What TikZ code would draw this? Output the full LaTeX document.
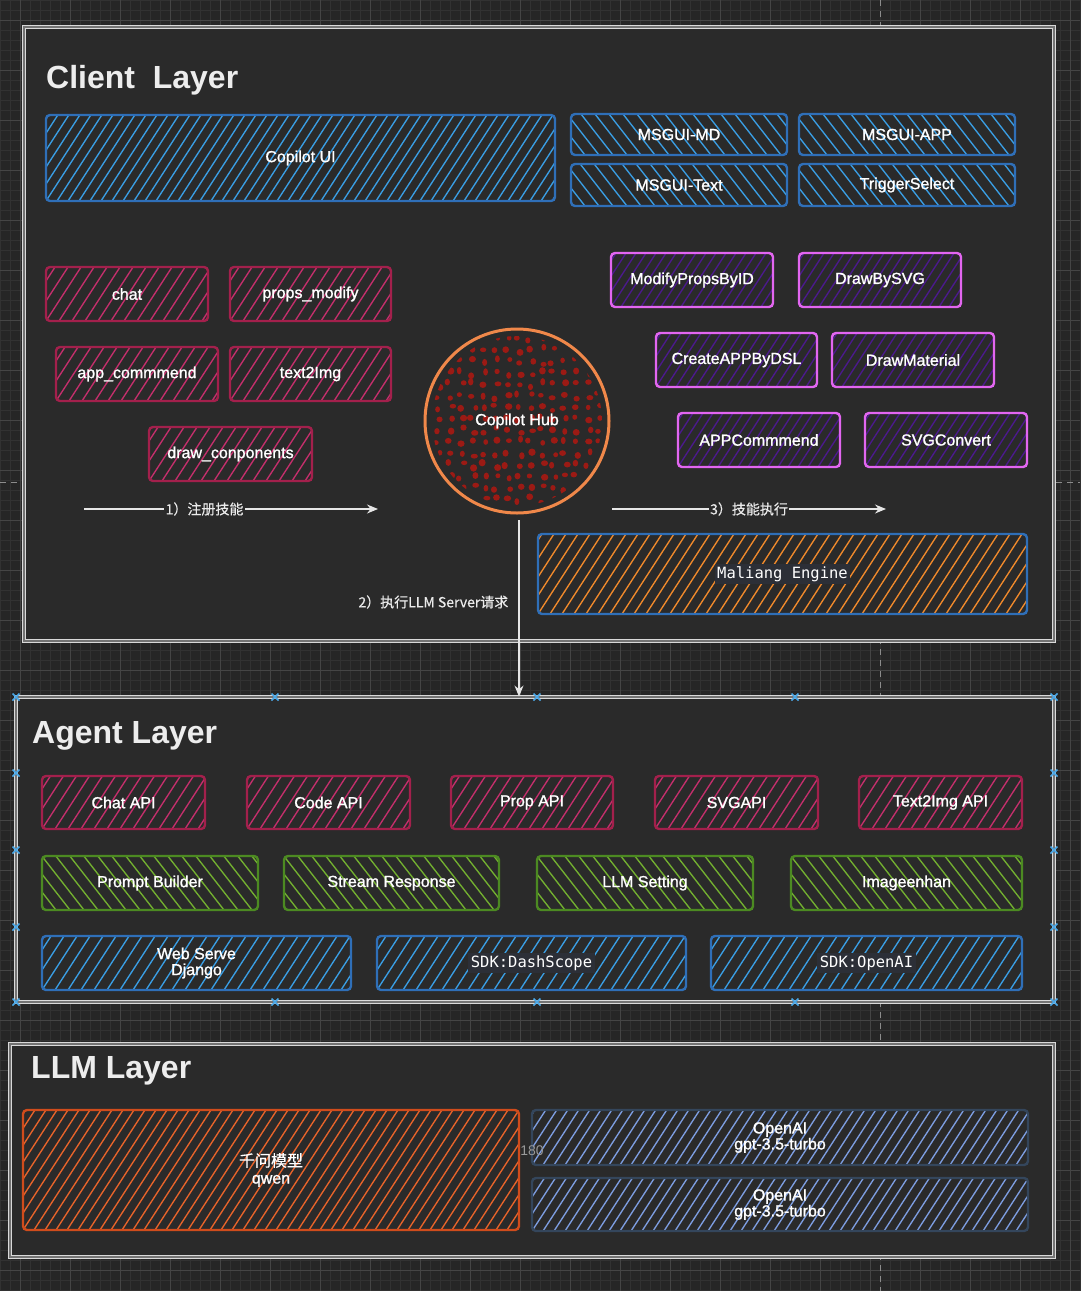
\documentclass[tikz,border=0pt]{standalone}
\usepackage{fontspec}
\setmainfont{Liberation Sans}
\newfontfamily\lblfont{Liberation Sans}[FakeBold=1.2]
\newfontfamily\cjk{Noto Sans CJK SC}[FakeBold=0.5]
\newfontfamily\monof{DejaVu Sans Mono}
\usetikzlibrary{arrows.meta,calc}
\definecolor{bgc}{HTML}{262626}
\definecolor{gridmin}{HTML}{323232}
\definecolor{gridmaj}{HTML}{454545}
\definecolor{panelbg}{HTML}{2A2A2A}
\definecolor{bBlue}{HTML}{2F6FB8}
\definecolor{hBlue}{HTML}{3A9EE4}
\definecolor{bRed}{HTML}{A3204C}
\definecolor{hRed}{HTML}{C42F6C}
\definecolor{bMag}{HTML}{E266F0}
\definecolor{hMag}{HTML}{4B1A8C}
\definecolor{hubOr}{HTML}{F0884A}
\definecolor{dotRed}{HTML}{9C1A14}
\definecolor{hOr}{HTML}{F08A2C}
\definecolor{bGreen}{HTML}{4C8A22}
\definecolor{hGreen}{HTML}{73B030}
\definecolor{bQwen}{HTML}{D04C1C}
\definecolor{hQwen}{HTML}{E8642A}
\definecolor{bSlate}{HTML}{34465C}
\definecolor{hSlate}{HTML}{7D9DE0}
\definecolor{monobg}{HTML}{2C2F37}
\definecolor{handle}{HTML}{4AA8E8}
\definecolor{arrowc}{HTML}{E6E6E6}
\newcommand{\lf}{\lblfont\fontsize{16}{18}\selectfont}
\newcommand{\tf}{\fontsize{32}{36}\selectfont\bfseries}
\newcommand{\monolbl}[1]{{\setlength{\fboxsep}{2.5pt}\colorbox{monobg}{\monof\fontsize{15.5}{18}\selectfont #1}}}
\newcommand{\boxat}[7]{\node[#6, minimum width={(#4-#2)*1pt}, minimum height={(#5-#3)*1pt}] (#1) at ({(#2+#4)/2},{(#3+#5)/2}) {#7};}
\tikzset{
  panel/.style={draw=white!85!black, double=white!45!black, double distance=1.6pt, line width=0.9pt, fill=panelbg, inner sep=0pt},
  title/.style={anchor=west, text=white!93!black, font=\tf, inner sep=0pt},
  bx/.style={draw=#1, rounded corners=4pt, line width=2.4pt, inner sep=0pt, text=white, font=\lf, align=center},
  hNE/.style 2 args={path picture={
    \foreach \k in {-14,...,62}{
      \draw[draw=#1, line width=1.35pt] ([xshift=\k*#2 pt]path picture bounding box.south west) -- ++(57:170pt);
    }}},
  hNW/.style 2 args={path picture={
    \foreach \k in {0,...,80}{
      \draw[draw=#1, line width=1.35pt] ([xshift=\k*#2 pt]path picture bounding box.south west) -- ++(128:170pt);
    }}},
  flow/.style={draw=arrowc, line width=1.2pt, -{Stealth[length=11pt,width=9pt]}},
  flowlbl/.style={fill=panelbg, text=white!92!black, inner sep=1.5pt, font=\cjk\fontsize{14}{16}\selectfont},
  guide/.style={draw=white!55!black, line width=0.8pt, dash pattern=on 6pt off 5pt},
}
\begin{document}
\begin{tikzpicture}[x=1pt, y=-1pt]
\useasboundingbox (0,0) rectangle (1080,1291);
\fill[bgc] (0,0) rectangle (1080,1291);
% canvas grid
\draw[gridmin, line width=0.6pt, step=10pt] (0,0) grid (1080,1291);
\begin{scope}[shift={(20,20)}]
\draw[gridmaj, line width=0.9pt, step=50pt] (-20,-20) grid (1060,1271);
\end{scope}
% guides
\draw[guide] (880,0) -- (880,1291);
\draw[guide] (0,482) -- (1080,482);

% ================= Client layer
\node[panel, minimum width=1030pt, minimum height=614pt] (client) at (539,334) {};
\node[title] (tclient) at (46,80) {Client\ \ Layer};

\boxat{copui}{46}{115}{555}{201}{bx=bBlue, hNE={hBlue}{11}}{Copilot UI}
\boxat{mdmd}{571}{114}{787}{155}{bx=bBlue, hNW={hBlue}{14}}{MSGUI-MD}
\boxat{mdapp}{799}{114}{1015}{155}{bx=bBlue, hNW={hBlue}{14}}{MSGUI-APP}
\boxat{mdtxt}{571}{164}{787}{206}{bx=bBlue, hNW={hBlue}{14}}{MSGUI-Text}
\boxat{trig}{799}{164}{1015}{206}{bx=bBlue, hNW={hBlue}{14}}{TriggerSelect}

\boxat{chat}{46}{267}{208}{321}{bx=bRed, hNE={hRed}{13}}{chat}
\boxat{props}{230}{267}{391}{321}{bx=bRed, hNE={hRed}{13}}{props\_modify}
\boxat{appc}{56}{347}{218}{401}{bx=bRed, hNE={hRed}{13}}{app\_commmend}
\boxat{t2i}{230}{347}{391}{401}{bx=bRed, hNE={hRed}{13}}{text2Img}
\boxat{drawc}{149}{427}{312}{481}{bx=bRed, hNE={hRed}{13}}{draw\_conponents}

\pgfmathsetseed{7}
\node[circle, draw=hubOr, line width=3pt, minimum size=184pt, inner sep=0pt, fill=panelbg, text=white, font=\lf,
  path picture={
    \clip (path picture bounding box.center) circle (85pt);
    \foreach \i in {0,...,16}{
      \foreach \j in {0,...,16}{
        \fill[dotRed] ([xshift={(\i*11.5+2+3*rand)*1pt}, yshift={(\j*11.5+2+3*rand)*1pt}]path picture bounding box.south west)
          ellipse ({(3.0+0.7*rand)*1pt} and {(3.0+0.7*rand)*1pt});
      }}
  }] (hub) at (517,421) {Copilot Hub};

\boxat{mpid}{611}{253}{773}{307}{bx=bMag, hNE={hMag}{10}}{ModifyPropsByID}
\boxat{dsvg}{799}{253}{961}{307}{bx=bMag, hNE={hMag}{10}}{DrawBySVG}
\boxat{cdsl}{656}{333}{817}{387}{bx=bMag, hNE={hMag}{10}}{CreateAPPByDSL}
\boxat{dmat}{832}{333}{994}{387}{bx=bMag, hNE={hMag}{10}}{DrawMaterial}
\boxat{apcm}{678}{413}{840}{467}{bx=bMag, hNE={hMag}{10}}{APPCommmend}
\boxat{svgc}{865}{413}{1027}{467}{bx=bMag, hNE={hMag}{10}}{SVGConvert}

\boxat{maliang}{538}{534}{1027}{614}{bx=bBlue, hNE={hOr}{12}}{\monolbl{Maliang Engine}}

% flows
\coordinate (f1s) at (84,509);
\coordinate (f1e) at (378,509);
\draw[flow] (f1s) -- node[flowlbl, pos=0.41] (l1) {1）注册技能} (f1e);
\coordinate (f3s) at (612,509);
\coordinate (f3e) at (886,509);
\draw[flow] (f3s) -- node[flowlbl, pos=0.5] (l3) {3）技能执行} (f3e);

% ================= Agent layer
\node[panel, minimum width=1038pt, minimum height=305pt] (agent) at (535,849.5) {};
\node[title] (tagent) at (32,736) {Agent Layer};

\coordinate (f2s) at (519,520);
\draw[flow] (f2s) -- (f2s |- agent.north);
\node[flowlbl, fill=none, anchor=east] (l2) at (510,602) {2）执行LLM Server请求};

\boxat{chatapi}{42}{776}{205}{829}{bx=bRed, hNE={hRed}{13}}{Chat API}
\boxat{codeapi}{247}{776}{410}{829}{bx=bRed, hNE={hRed}{13}}{Code API}
\boxat{propapi}{451}{776}{613}{829}{bx=bRed, hNE={hRed}{13}}{Prop API}
\boxat{svgapi}{655}{776}{818}{829}{bx=bRed, hNE={hRed}{13}}{SVGAPI}
\boxat{t2iapi}{859}{776}{1022}{829}{bx=bRed, hNE={hRed}{13}}{Text2Img API}

\boxat{pb}{42}{856}{258}{910}{bx=bGreen, hNW={hGreen}{14}}{Prompt Builder}
\boxat{sr}{284}{856}{499}{910}{bx=bGreen, hNW={hGreen}{14}}{Stream Response}
\boxat{ls}{537}{856}{753}{910}{bx=bGreen, hNW={hGreen}{14}}{LLM Setting}
\boxat{ie}{791}{856}{1022}{910}{bx=bGreen, hNW={hGreen}{14}}{Imageenhan}

\boxat{web}{42}{936}{351}{990}{bx=bBlue, hNE={hBlue}{13}}{Web Serve\\[-2pt]Django}
\boxat{dash}{377}{936}{686}{990}{bx=bBlue, hNE={hBlue}{13}}{\monolbl{SDK:DashScope}}
\boxat{oai}{711}{936}{1022}{990}{bx=bBlue, hNE={hBlue}{13}}{\monolbl{SDK:OpenAI}}

% selection handles
\foreach \hx in {16,275,537,795,1054}{
  \foreach \hy in {697,1002}{
    \draw[handle, line width=1.6pt] (\hx-3.5,\hy-3.5) -- (\hx+3.5,\hy+3.5) (\hx-3.5,\hy+3.5) -- (\hx+3.5,\hy-3.5);
  }}
\foreach \hy in {773,850,927}{
  \foreach \hx in {16,1054}{
    \draw[handle, line width=1.6pt] (\hx-3.5,\hy-3.5) -- (\hx+3.5,\hy+3.5) (\hx-3.5,\hy+3.5) -- (\hx+3.5,\hy-3.5);
  }}

% ================= LLM layer
\node[panel, minimum width=1044pt, minimum height=213pt] (llm) at (532,1150.5) {};
\node[title] (tllm) at (31,1071) {LLM Layer};

\boxat{qwen}{23}{1110}{519}{1230}{bx=bQwen, hNE={hQwen}{11}}{{\cjk 千问模型}\\[-1pt]qwen}
\boxat{gpt1}{532}{1110}{1028}{1165}{bx=bSlate, hNE={hSlate}{11}}{OpenAI\\[-2pt]gpt-3.5-turbo}
\boxat{gpt2}{532}{1178}{1028}{1231}{bx=bSlate, hNE={hSlate}{11}}{OpenAI\\[-2pt]gpt-3.5-turbo}
\node[text=white!60!black, font=\fontsize{14}{16}\selectfont, inner sep=0pt] (n180) at (532,1151) {180};
\end{tikzpicture}
\end{document}
